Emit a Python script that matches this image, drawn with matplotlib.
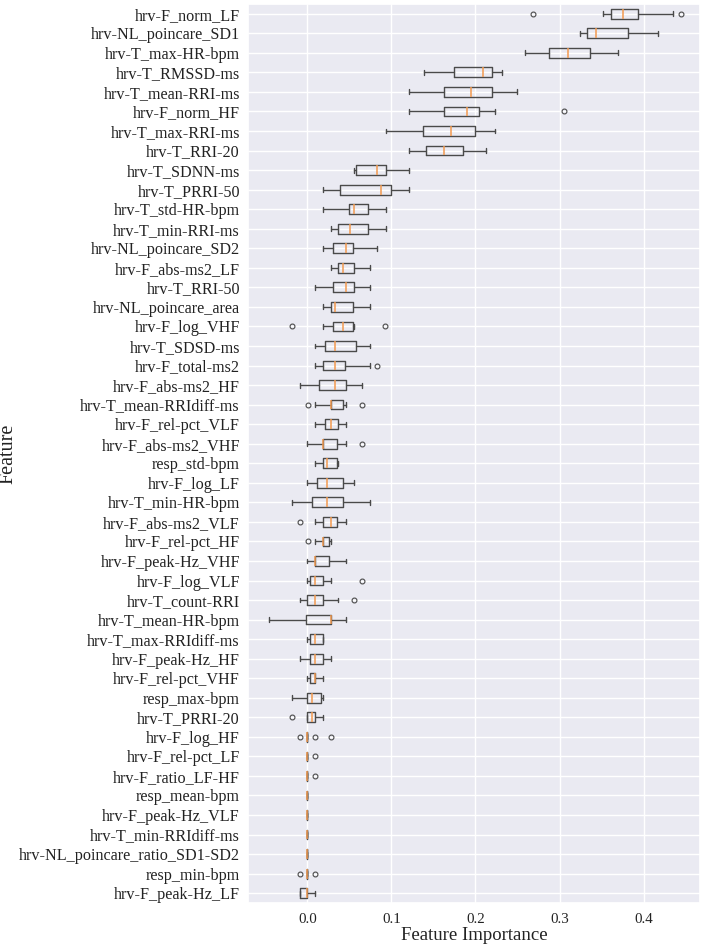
import matplotlib
matplotlib.use("Agg")
import matplotlib.pyplot as plt
import seaborn as sns

features = [
    "hrv-F_norm_LF", "hrv-NL_poincare_SD1", "hrv-T_max-HR-bpm", "hrv-T_RMSSD-ms",
    "hrv-T_mean-RRI-ms", "hrv-F_norm_HF", "hrv-T_max-RRI-ms", "hrv-T_RRI-20",
    "hrv-T_SDNN-ms", "hrv-T_PRRI-50", "hrv-T_std-HR-bpm", "hrv-T_min-RRI-ms",
    "hrv-NL_poincare_SD2", "hrv-F_abs-ms2_LF", "hrv-T_RRI-50", "hrv-NL_poincare_area",
    "hrv-F_log_VHF", "hrv-T_SDSD-ms", "hrv-F_total-ms2", "hrv-F_abs-ms2_HF",
    "hrv-T_mean-RRIdiff-ms", "hrv-F_rel-pct_VLF", "hrv-F_abs-ms2_VHF", "resp_std-bpm",
    "hrv-F_log_LF", "hrv-T_min-HR-bpm", "hrv-F_abs-ms2_VLF", "hrv-F_rel-pct_HF",
    "hrv-F_peak-Hz_VHF", "hrv-F_log_VLF", "hrv-T_count-RRI", "hrv-T_mean-HR-bpm",
    "hrv-T_max-RRIdiff-ms", "hrv-F_peak-Hz_HF", "hrv-F_rel-pct_VHF", "resp_max-bpm",
    "hrv-T_PRRI-20", "hrv-F_log_HF", "hrv-F_rel-pct_LF", "hrv-F_ratio_LF-HF",
    "resp_mean-bpm", "hrv-F_peak-Hz_VLF", "hrv-T_min-RRIdiff-ms",
    "hrv-NL_poincare_ratio_SD1-SD2", "resp_min-bpm", "hrv-F_peak-Hz_LF",
]

whislo = [0.352, 0.324, 0.259, 0.139, 0.121, 0.121, 0.093, 0.121, 0.056, 0.019,
          0.019, 0.028, 0.019, 0.028, 0.0095, 0.019, 0.019, 0.0095, 0.0095, -0.009,
          0.0095, 0.0095, 0.0, 0.0095, 0.0, -0.018, 0.0095, 0.0095, 0.0, 0.0,
          -0.009, -0.046, 0.0, -0.009, 0.0, -0.018, 0.0, 0.0, 0.0, 0.0,
          0.0, 0.0, 0.0, 0.0, 0.0, -0.009]
q1 = [0.361, 0.333, 0.287, 0.174, 0.162, 0.162, 0.137, 0.141, 0.058, 0.039,
      0.049, 0.037, 0.030, 0.037, 0.030, 0.028, 0.030, 0.021, 0.019, 0.014,
      0.028, 0.021, 0.019, 0.019, 0.012, 0.005, 0.019, 0.019, 0.0095, 0.003,
      0.0, -0.002, 0.003, 0.003, 0.003, 0.0, 0.0, 0.0, 0.0, 0.0,
      0.0, 0.0, 0.0, 0.0, 0.0, -0.009]
med = [0.375, 0.343, 0.310, 0.209, 0.195, 0.190, 0.171, 0.162, 0.083, 0.088,
       0.056, 0.051, 0.046, 0.042, 0.046, 0.033, 0.042, 0.033, 0.033, 0.033,
       0.028, 0.028, 0.019, 0.023, 0.023, 0.023, 0.028, 0.019, 0.0095, 0.0095,
       0.0095, 0.028, 0.0095, 0.0095, 0.0095, 0.005, 0.005, 0.0, 0.0, 0.0,
       0.0, 0.0, 0.0, 0.0, 0.0, 0.0]
q3 = [0.393, 0.382, 0.336, 0.220, 0.220, 0.204, 0.199, 0.185, 0.093, 0.100,
      0.072, 0.072, 0.054, 0.056, 0.056, 0.054, 0.054, 0.058, 0.045, 0.046,
      0.042, 0.037, 0.035, 0.035, 0.042, 0.042, 0.035, 0.026, 0.026, 0.019,
      0.019, 0.028, 0.019, 0.019, 0.0095, 0.016, 0.0095, 0.0, 0.0, 0.0,
      0.0, 0.0, 0.0, 0.0, 0.0, 0.0]
whishi = [0.435, 0.417, 0.370, 0.232, 0.250, 0.223, 0.223, 0.213, 0.121, 0.121,
          0.093, 0.093, 0.083, 0.074, 0.074, 0.074, 0.056, 0.074, 0.074, 0.065,
          0.046, 0.046, 0.046, 0.037, 0.056, 0.074, 0.046, 0.028, 0.046, 0.028,
          0.037, 0.046, 0.019, 0.028, 0.019, 0.019, 0.019, 0.0, 0.0, 0.0,
          0.0, 0.0, 0.0, 0.0, 0.0, 0.0095]
fliers = [[0.268, 0.4445], [], [], [], [], [0.305], [], [], [], [],
          [], [], [], [], [], [], [-0.0186, 0.0925], [], [0.0833], [],
          [0.0004, 0.065], [], [0.065], [], [], [], [-0.009], [0.0004], [], [0.065],
          [0.056], [], [], [], [], [], [-0.0182], [-0.009, 0.0095, 0.0278], [0.0095], [0.0095],
          [], [], [], [], [-0.009, 0.0095], []]

x_ticks = [0.0, 0.1, 0.2, 0.3, 0.4]
x_tick_labels = ["0.0", "0.1", "0.2", "0.3", "0.4"]

sns.set_theme(style="darkgrid")
plt.rcParams["font.family"] = ["Liberation Serif", "DejaVu Serif"]

fig = plt.figure(figsize=(7.02, 9.47), dpi=100)
ax = fig.add_axes([0.3533, 0.0465, 0.6443, 0.9493])

stats = []
for i, name in enumerate(features):
    stats.append(dict(label=name, whislo=whislo[i], q1=q1[i], med=med[i],
                      q3=q3[i], whishi=whishi[i], fliers=fliers[i]))

n = len(features)
line_col = "#4a4a4a"
ax.bxp(stats, positions=list(range(n, 0, -1)), vert=False, widths=0.5,
       boxprops=dict(color=line_col, linewidth=1.0),
       whiskerprops=dict(color=line_col, linewidth=1.0),
       capprops=dict(color=line_col, linewidth=1.0),
       medianprops=dict(color="#F29A50", linewidth=1.1),
       flierprops=dict(marker="o", markerfacecolor="none", markeredgecolor=line_col,
                       markersize=3.5, markeredgewidth=0.8))

ax.set_ylim(0.5, n + 0.5)
ax.set_xlim(-0.0706, 0.4675)
ax.set_xticks(x_ticks)
ax.set_xticklabels(x_tick_labels)
ax.tick_params(axis="both", length=0, colors="#222222")
ax.tick_params(axis="y", labelsize=11.6, pad=5.8)
ax.tick_params(axis="x", labelsize=10.8, pad=7.5)

ax.set_xlabel("Feature Importance", fontsize=13.5, color="#222222")
ax.xaxis.set_label_coords(0.5, -0.027)
ax.set_ylabel("Feature", fontsize=14.5, color="#222222", va="center",
              rotation_mode="anchor")
ax.yaxis.set_label_coords((8.5 - 248) / 452.0, 0.5)

fig.savefig("out.png", dpi=100)
